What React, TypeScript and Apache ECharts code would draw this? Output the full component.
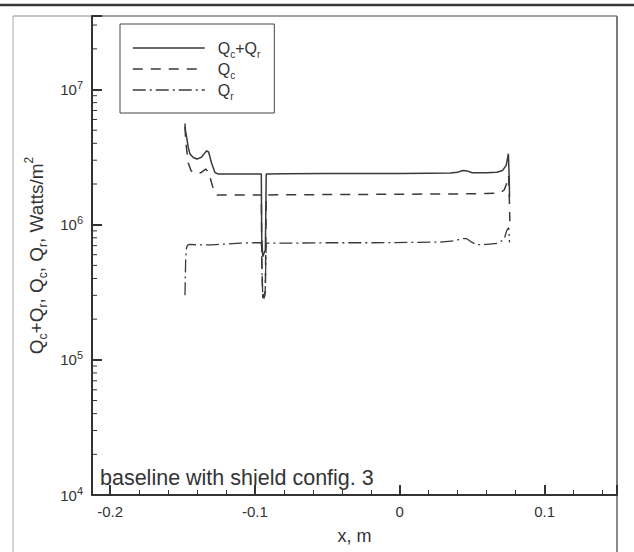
import React, { useEffect, useRef } from 'react';
import * as echarts from 'echarts';

// ---- data ----
const X_MIN = -0.2125;
const X_MAX = 0.15;
const Y_MIN = 1e4;
const Y_MAX = 3.5e7;

const xTickValues = [-0.2, -0.1, 0, 0.1];
const yDecadeExponents = [4, 5, 6, 7];
const yMinorMantissas = [2, 3, 4, 5, 6, 7, 8, 9];

const totalX = [-0.1483, -0.148, -0.1471, -0.146, -0.1448, -0.1426, -0.14, -0.137, -0.1345, -0.1333, -0.132, -0.1299, -0.1276, -0.1253, -0.115, -0.105, -0.0956, -0.0953, -0.0946, -0.0928, -0.0922, -0.08, -0.05, -0.02, 0.0, 0.02, 0.035, 0.04, 0.0435, 0.0465, 0.05, 0.06, 0.067, 0.071, 0.0735, 0.075, 0.0756, 0.0758];
const totalY = [5.6e6, 5.0e6, 4.4e6, 3.7e6, 3.33e6, 3.14e6, 3.06e6, 3.15e6, 3.4e6, 3.52e6, 3.45e6, 2.85e6, 2.43e6, 2.37e6, 2.37e6, 2.37e6, 2.37e6, 8.0e5, 5.8e5, 6.5e5, 2.37e6, 2.38e6, 2.39e6, 2.39e6, 2.39e6, 2.4e6, 2.41e6, 2.44e6, 2.52e6, 2.5e6, 2.42e6, 2.42e6, 2.44e6, 2.52e6, 2.75e6, 3.35e6, 2.2e6, 1.6e6];

const convX = [-0.1483, -0.1478, -0.147, -0.146, -0.144, -0.1405, -0.1375, -0.134, -0.132, -0.13, -0.128, -0.1262, -0.11, -0.0956, -0.0952, -0.0946, -0.0928, -0.0922, -0.05, 0.0, 0.04, 0.06, 0.069, 0.072, 0.0745, 0.0752, 0.0757, 0.076];
const convY = [5.3e6, 4.2e6, 3.5e6, 2.85e6, 2.5e6, 2.38e6, 2.42e6, 2.58e6, 2.45e6, 2.05e6, 1.74e6, 1.66e6, 1.66e6, 1.66e6, 5.0e5, 2.9e5, 3.2e5, 1.66e6, 1.67e6, 1.68e6, 1.69e6, 1.7e6, 1.72e6, 1.8e6, 2.1e6, 2.3e6, 1.5e6, 1.06e6];

const radX = [-0.1483, -0.1481, -0.1478, -0.1474, -0.1466, -0.145, -0.14, -0.13, -0.12, -0.11, -0.1, -0.0956, -0.095, -0.0944, -0.093, -0.0922, -0.08, -0.05, -0.02, 0.01, 0.03, 0.038, 0.043, 0.046, 0.049, 0.053, 0.06, 0.068, 0.072, 0.0738, 0.0752, 0.0758];
const radY = [3.0e5, 4.0e5, 5.5e5, 6.6e5, 7.05e5, 7.15e5, 7.1e5, 7.1e5, 7.2e5, 7.3e5, 7.35e5, 7.35e5, 4.0e5, 2.75e5, 3.0e5, 7.3e5, 7.3e5, 7.35e5, 7.35e5, 7.4e5, 7.45e5, 7.6e5, 7.9e5, 7.9e5, 7.5e5, 7.1e5, 7.15e5, 7.3e5, 7.8e5, 9.0e5, 9.5e5, 7.4e5];

const seriesNames = ['total', 'conv', 'rad'];
const legendLabels: Record<string, string> = {
  total: '{q|Q}{s|c}{q|+Q}{s|r}',
  conv: '{q|Q}{s|c}',
  rad: '{q|Q}{s|r}',
};

const FONT = '"Liberation Sans", Arial, Helvetica, sans-serif';
const INK = '#333333';
const LINE = '#3a3a3a';

const zip = (xs: number[], ys: number[]) => xs.map((x, i) => [x, ys[i]]);

export default function App() {
  const ref = useRef<HTMLDivElement>(null);

  useEffect(() => {
    if (!ref.current) return;
    const chart = echarts.init(ref.current, null, { renderer: 'svg' });

    const minorY: number[][] = [];
    yDecadeExponents.forEach((e) => {
      yMinorMantissas.forEach((m) => {
        const v = m * Math.pow(10, e);
        if (v < Y_MAX) minorY.push([X_MIN, v]);
      });
    });

    const subRich = {
      q: { fontSize: 16, fontFamily: FONT, color: INK, lineHeight: 22 },
      s: { fontSize: 10, fontFamily: FONT, color: INK, lineHeight: 10, verticalAlign: 'bottom' },
      p: { fontSize: 10, fontFamily: FONT, color: INK, lineHeight: 10, verticalAlign: 'top' },
    };

    chart.setOption({
      animation: false,
      backgroundColor: '#ffffff',
      textStyle: { fontFamily: FONT, color: INK },
      grid: {
        left: 92,
        right: 17,
        top: 16,
        bottom: 57,
        show: true,
        borderColor: '#777',
        borderWidth: 1,
        containLabel: false,
      },
      legend: {
        orient: 'vertical',
        left: 120,
        top: 24,
        data: seriesNames,
        itemWidth: 72,
        itemHeight: 14,
        itemGap: 2,
        padding: [16, 14, 12, 12],
        borderColor: '#444',
        borderWidth: 1,
        backgroundColor: '#fff',
        selectedMode: false,
        itemStyle: { opacity: 0 },
        lineStyle: { width: 1.5 },
        formatter: (name: string) => legendLabels[name],
        textStyle: { padding: [0, 0, 0, 8], rich: subRich },
      },
      xAxis: {
        type: 'value',
        min: X_MIN,
        max: X_MAX,
        splitNumber: 5,
        name: 'x, m',
        nameLocation: 'middle',
        nameGap: 32,
        nameTextStyle: { fontSize: 18, fontFamily: FONT, color: INK },
        splitLine: { show: false },
        axisLine: { show: true, onZero: false, lineStyle: { color: INK, width: 2 } },
        axisTick: { show: true, inside: true, length: 10, lineStyle: { color: INK, width: 2 } },
        minorTick: { show: true, splitNumber: 5, length: 5, lineStyle: { color: INK, width: 1 } },
        axisLabel: {
          margin: 9,
          fontSize: 15,
          fontFamily: FONT,
          color: INK,
          showMinLabel: true,
          showMaxLabel: true,
          formatter: (v: number) => {
            const hit = xTickValues.find((t) => Math.abs(t - v) < 1e-9);
            if (hit === undefined) return '';
            return hit === 0 ? '0' : hit.toFixed(1);
          },
        },
      },
      yAxis: {
        type: 'log',
        logBase: 10,
        min: Y_MIN,
        max: Y_MAX,
        name: '{q|Q}{s|c}{q|+Q}{s|r}{q|, Q}{s|c}{q|, Q}{s|r}{q|, Watts/m}{p|2}',
        nameLocation: 'middle',
        nameGap: 30,
        nameTextStyle: {
          rich: {
            q: { fontSize: 19, fontFamily: FONT, color: INK, lineHeight: 26 },
            s: { fontSize: 12, fontFamily: FONT, color: INK, lineHeight: 12, verticalAlign: 'bottom' },
            p: { fontSize: 12, fontFamily: FONT, color: INK, lineHeight: 12, verticalAlign: 'top' },
          },
        },
        splitLine: { show: false },
        axisLine: { show: true, onZero: false, lineStyle: { color: INK, width: 2 } },
        axisTick: { show: true, inside: true, length: 10, lineStyle: { color: INK, width: 2 } },
        minorTick: { show: false },
        axisLabel: {
          margin: 9,
          showMinLabel: true,
          showMaxLabel: true,
          formatter: (v: number) => {
            const e = Math.round(Math.log10(v));
            if (!yDecadeExponents.includes(e) || Math.abs(v - Math.pow(10, e)) > 1e-6 * v) return '';
            return `{b|10}{s|${e}}`;
          },
          rich: {
            b: { fontSize: 15, fontFamily: FONT, color: INK, lineHeight: 20 },
            s: { fontSize: 11, fontFamily: FONT, color: INK, lineHeight: 11, verticalAlign: 'top' },
          },
        },
      },
      series: [
        {
          name: 'total',
          type: 'line',
          data: zip(totalX, totalY),
          symbol: 'none',
          showSymbol: false,
          lineStyle: { color: LINE, width: 1.5, type: 'solid' },
          itemStyle: { color: LINE },
          z: 5,
        },
        {
          name: 'conv',
          type: 'line',
          data: zip(convX, convY),
          symbol: 'none',
          showSymbol: false,
          lineStyle: { color: LINE, width: 1.5, type: [10, 8] },
          itemStyle: { color: LINE },
          z: 4,
        },
        {
          name: 'rad',
          type: 'line',
          data: zip(radX, radY),
          symbol: 'none',
          showSymbol: false,
          lineStyle: { color: LINE, width: 1.3, type: [13, 4, 2, 4] },
          itemStyle: { color: LINE },
          z: 4,
        },
        {
          name: 'yMinorTicks',
          type: 'custom',
          silent: true,
          clip: false,
          data: minorY,
          encode: { x: 0, y: 1 },
          renderItem: (_params: any, api: any) => {
            const p = api.coord([api.value(0), api.value(1)]);
            return {
              type: 'line',
              shape: { x1: p[0], y1: p[1], x2: p[0] + 5, y2: p[1] },
              style: { stroke: INK, lineWidth: 1 },
            };
          },
          z: 6,
        },
      ],
      graphic: [
        { type: 'line', shape: { x1: 0, y1: 5, x2: 634, y2: 5 }, style: { stroke: '#3a3a3a', lineWidth: 2.5 }, silent: true },
        { type: 'line', shape: { x1: 13, y1: 16, x2: 13, y2: 552 }, style: { stroke: '#aaaaaa', lineWidth: 1 }, silent: true },
        { type: 'line', shape: { x1: 13, y1: 16, x2: 617, y2: 16 }, style: { stroke: '#888888', lineWidth: 1 }, silent: true },
        { type: 'line', shape: { x1: 617, y1: 16, x2: 617, y2: 552 }, style: { stroke: '#666666', lineWidth: 1.5 }, silent: true },
        {
          type: 'text',
          x: 100,
          y: 478,
          silent: true,
          style: {
            text: 'baseline with shield config. 3',
            font: `21.5px ${FONT}`,
            fill: INK,
            verticalAlign: 'middle',
            textVerticalAlign: 'middle',
          },
        },
      ],
    });

    return () => chart.dispose();
  }, []);

  return (
    <div
      ref={ref}
      style={{ position: 'fixed', left: 0, top: 0, width: 634, height: 552, background: '#fff' }}
    />
  );
}
